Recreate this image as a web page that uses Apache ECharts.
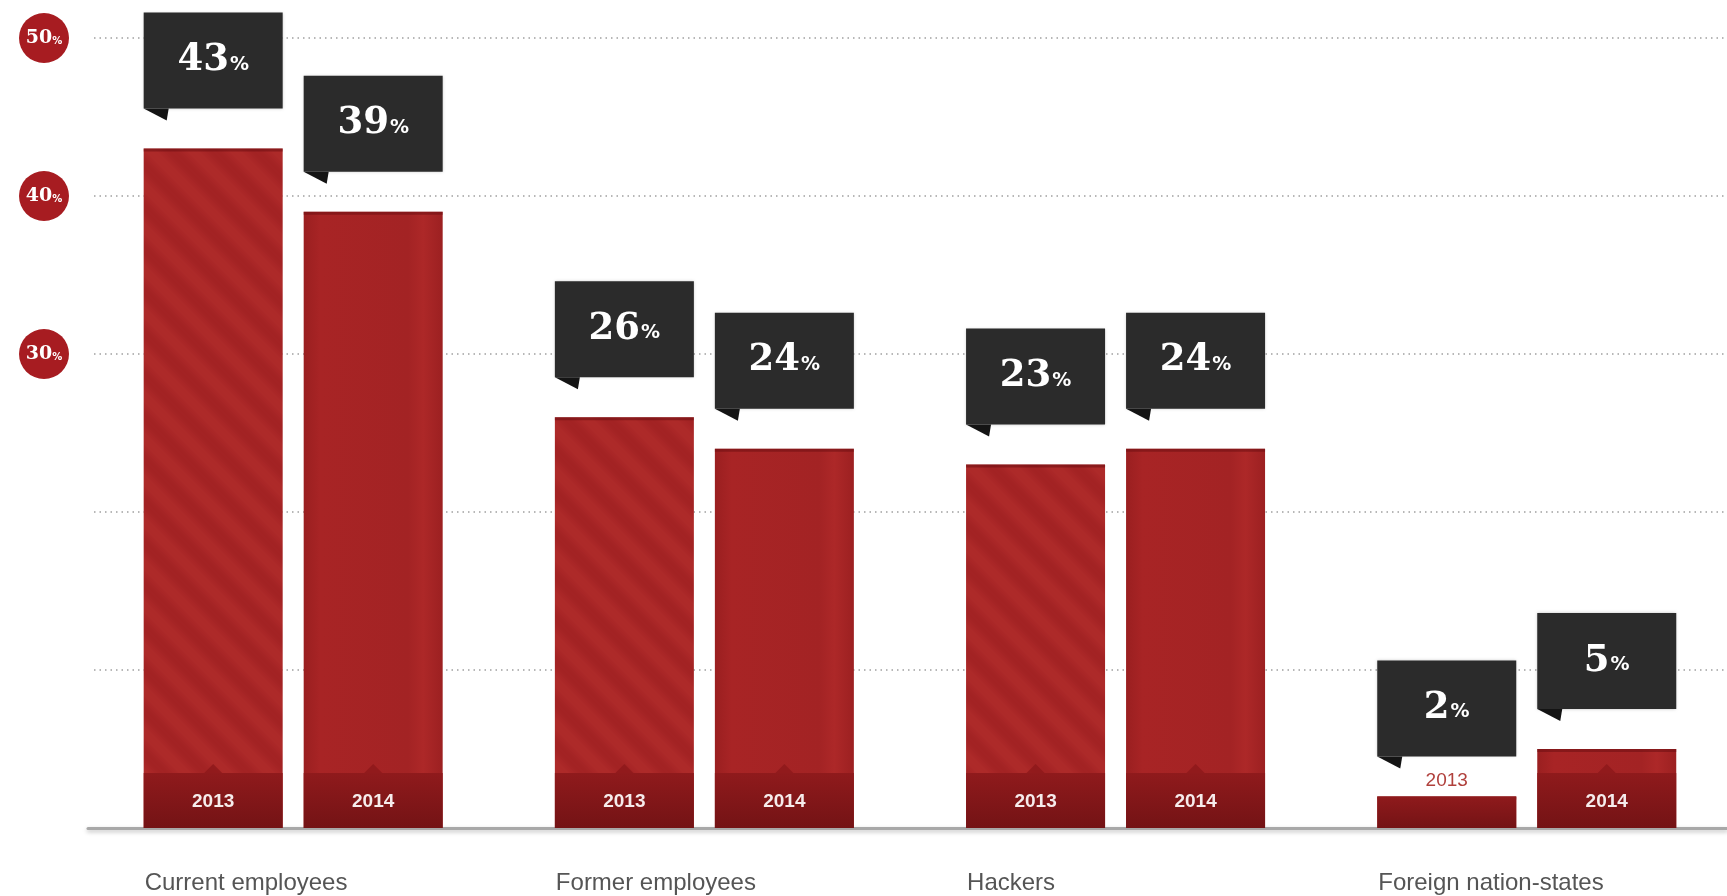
<!DOCTYPE html>
<html>
<head>
<meta charset="utf-8">
<title>Insider and outsider threats, 2013 vs 2014</title>
<script src="https://cdn.jsdelivr.net/npm/echarts@6/dist/echarts.min.js"></script>
<style>
  html, body { margin: 0; padding: 0; background: #ffffff; }
  #chart { width: 1727px; height: 896px; }
</style>
</head>
<body>
<div id="chart"></div>
<script>
// ---- data ----
const categories = ['Current employees', 'Former employees', 'Hackers', 'Foreign nation-states'];
const years = ['2013', '2014'];
const values2013 = [43, 26, 23, 2];
const values2014 = [39, 24, 24, 5];
const badgeTicks = [30, 40, 50];

// ---- styling constants ----
const BAR_W = 139;
const BAR_GAP = 21;
const BAND_H = 55;
const BOX_H = 96;
const BOX_GAP = 40;
const RED = '#a32324';
const DARK = '#2b2b2b';

// soft diagonal stripe texture used on the 2013 bars
function stripePattern() {
  const s = 42;
  const c = document.createElement('canvas');
  c.width = s * 3; c.height = s * 3;
  const g = c.getContext('2d');
  g.fillStyle = RED;
  g.fillRect(0, 0, c.width, c.height);
  g.filter = 'blur(3px)';
  g.strokeStyle = 'rgba(255,95,85,0.12)';
  g.lineWidth = 15;
  for (let k = -4; k <= 4; k++) {
    g.beginPath();
    g.moveTo(k * s - 10, -10);
    g.lineTo(k * s + 3 * s + 10, 3 * s + 10);
    g.stroke();
  }
  // keep only the centre tile so the blur wraps seamlessly
  const t = document.createElement('canvas');
  t.width = s; t.height = s;
  t.getContext('2d').drawImage(c, s, s, s, s, 0, 0, s, s);
  return { image: t, repeat: 'repeat' };
}
const stripes = stripePattern();

const plainFill = new echarts.graphic.LinearGradient(0, 0, 1, 0, [
  { offset: 0, color: '#9a1f20' },
  { offset: 0.12, color: '#a82425' },
  { offset: 0.75, color: '#a32324' },
  { offset: 0.86, color: '#ad2828' },
  { offset: 1, color: '#9c2021' }
]);
const bandFill = new echarts.graphic.LinearGradient(0, 0, 0, 1, [
  { offset: 0, color: '#8f1a1c' },
  { offset: 1, color: '#741315' }
]);

function makeRenderItem(yearIdx) {
  const offset = (yearIdx === 0 ? -1 : 1) * (BAR_W + BAR_GAP) / 2;
  return function (params, api) {
    const ci = api.value(0);
    const v = api.value(1);
    const base = api.coord([ci, 0]);
    const top = api.coord([ci, v]);
    const x = base[0] + offset - BAR_W / 2;
    const h = base[1] - top[1];
    const cx = x + BAR_W / 2;
    const children = [];

    // bar body
    children.push({
      type: 'rect',
      shape: { x: x, y: top[1], width: BAR_W, height: h },
      style: { fill: yearIdx === 0 ? stripes : plainFill }
    });
    // thin darker rim along the top edge
    children.push({
      type: 'rect',
      shape: { x: x, y: top[1], width: BAR_W, height: 3 },
      style: { fill: 'rgba(110,15,18,0.55)' }
    });
    // darker footer band holding the year
    const bh = Math.min(h, BAND_H);
    children.push({
      type: 'rect',
      shape: { x: x, y: base[1] - bh, width: BAR_W, height: bh },
      style: { fill: bandFill }
    });
    if (h > BAND_H + 12) {
      children.push({
        type: 'polygon',
        shape: { points: [[cx - 9, base[1] - BAND_H], [cx, base[1] - BAND_H - 9], [cx + 9, base[1] - BAND_H]] },
        style: { fill: 'rgba(140,24,26,0.8)' }
      });
    }
    // year label
    if (h >= BAND_H) {
      children.push({
        type: 'text',
        style: {
          text: years[yearIdx], x: cx, y: base[1] - 26, align: 'center', verticalAlign: 'middle',
          fill: '#f6ecec', font: 'bold 19px "Liberation Sans", Arial, sans-serif'
        }
      });
    } else {
      children.push({
        type: 'text',
        style: {
          text: years[yearIdx], x: cx, y: top[1] - 16, align: 'center', verticalAlign: 'middle',
          fill: '#b0403c', font: '19px "Liberation Sans", Arial, sans-serif'
        }
      });
    }
    // value callout
    const boxBottom = top[1] - BOX_GAP;
    const boxTop = boxBottom - BOX_H;
    children.push({
      type: 'rect',
      shape: { x: x, y: boxTop, width: BAR_W, height: BOX_H },
      style: { fill: DARK, shadowColor: 'rgba(0,0,0,0.25)', shadowBlur: 3 }
    });
    children.push({
      type: 'polygon',
      shape: { points: [[x, boxBottom], [x + 25, boxBottom], [x + 23, boxBottom + 12]] },
      style: { fill: '#141414' }
    });
    children.push({
      type: 'text',
      style: {
        text: '{v|' + v + '}{p|%}', x: cx, y: boxTop + BOX_H / 2, align: 'center', verticalAlign: 'middle',
        rich: {
          v: { fill: '#ffffff', fontFamily: '"DejaVu Serif", serif', fontWeight: 'bold', fontSize: 37 },
          p: { fill: '#ffffff', fontFamily: '"DejaVu Sans", sans-serif', fontWeight: 'bold', fontSize: 19, padding: [8, 0, 0, 1] }
        }
      }
    });
    return { type: 'group', children: children };
  };
}

const chart = echarts.init(document.getElementById('chart'), null, { renderer: 'canvas' });

// category slots are laid out on a numeric axis (slot i sits at x = i)
const slotIndex = categories.map(function (c, i) { return i; });

chart.setOption({
  animation: false,
  backgroundColor: '#ffffff',
  grid: [
    { left: 88, top: 38, right: 0, bottom: 68 },
    { left: 94, top: 38, right: 0, bottom: 68 }
  ],
  xAxis: [
    {
      type: 'value', gridIndex: 0, min: -0.499, max: 3.487,
      splitLine: { show: false }, axisTick: { show: false },
      axisLine: { onZero: false, lineStyle: { color: '#a8a8a8', width: 3, shadowColor: 'rgba(0,0,0,0.25)', shadowBlur: 4, shadowOffsetY: 2 } },
      axisLabel: {
        customValues: slotIndex,
        margin: 43, align: 'center',
        formatter: function (val) { return '{c|' + categories[Math.round(val)] + '}'; },
        rich: { c: { width: 299, align: 'left', fontSize: 24, lineHeight: 24, color: '#555555', fontFamily: '"Liberation Sans", Arial, sans-serif', padding: [0, 0, 0, 2] } }
      }
    },
    { type: 'value', gridIndex: 1, show: false, min: 0, max: 1 }
  ],
  yAxis: [
    {
      type: 'value', gridIndex: 0, min: 0, max: 50, interval: 10,
      axisLine: { show: false }, axisTick: { show: false }, splitLine: { show: false },
      axisLabel: {
        customValues: badgeTicks,
        margin: 44, align: 'center', verticalAlign: 'middle',
        width: 50, height: 50, lineHeight: 50,
        backgroundColor: '#a71c21', borderRadius: 25,
        formatter: function (val) { return '{n|' + val + '}{p|%}'; },
        rich: {
          n: { color: '#ffffff', fontFamily: '"DejaVu Serif", serif', fontWeight: 'bold', fontSize: 19, lineHeight: 50 },
          p: { color: '#ffffff', fontFamily: '"DejaVu Sans", sans-serif', fontWeight: 'bold', fontSize: 10, lineHeight: 50, padding: [6, 0, 0, 0] }
        }
      }
    },
    {
      type: 'value', gridIndex: 1, min: 0, max: 50, interval: 10,
      axisLine: { show: false }, axisTick: { show: false }, axisLabel: { show: false },
      splitLine: { lineStyle: { color: '#a0a0a0', width: 1.5, type: [1.5, 4] } }
    }
  ],
  series: [
    {
      name: years[0], type: 'custom', xAxisIndex: 0, yAxisIndex: 0, clip: false, z: 5,
      renderItem: makeRenderItem(0),
      data: values2013.map(function (v, i) { return [slotIndex[i], v]; })
    },
    {
      name: years[1], type: 'custom', xAxisIndex: 0, yAxisIndex: 0, clip: false, z: 5,
      renderItem: makeRenderItem(1),
      data: values2014.map(function (v, i) { return [slotIndex[i], v]; })
    }
  ]
});
</script>
</body>
</html>
